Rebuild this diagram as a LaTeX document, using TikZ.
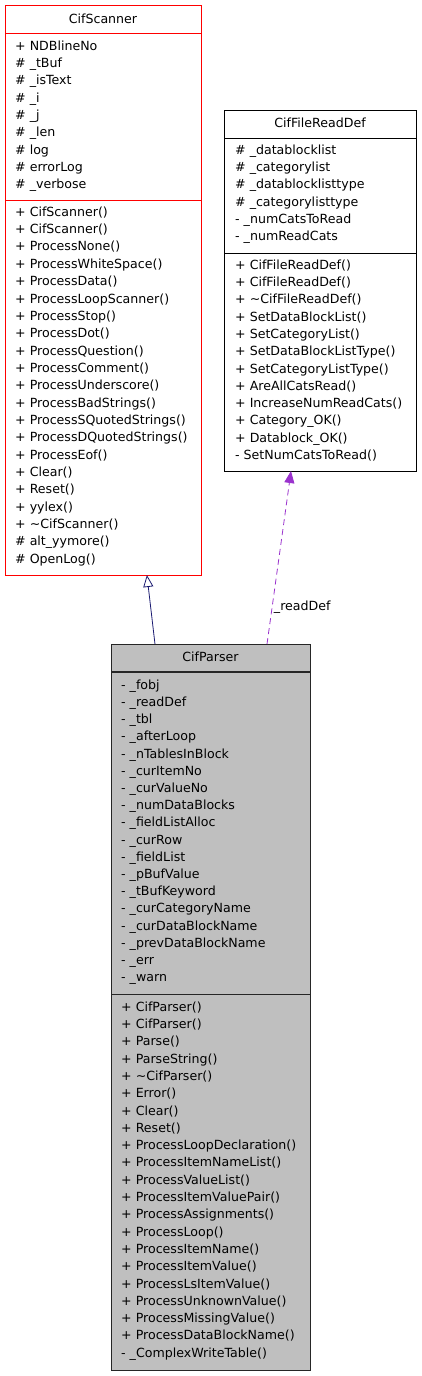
\documentclass[tikz,border=0pt]{standalone}
\usepackage{fontspec}
\setmainfont{DejaVu Sans}
\usetikzlibrary{arrows.meta,calc}

\definecolor{inheritblue}{RGB}{25,25,112}
\definecolor{usepurple}{RGB}{154,50,205}
\definecolor{classgray}{RGB}{191,191,191}
\definecolor{scannerred}{RGB}{255,0,0}

\tikzset{
    classbox/.style={rectangle, line width=1pt, inner sep=0pt, outer sep=0pt},
    member/.style={anchor=west, inner sep=0pt, text height=10pt, text depth=1.5pt},
    title/.style={inner sep=0pt, text height=10pt, text depth=1.5pt},
    inherit/.style={draw=inheritblue, line width=0.8pt, -{Triangle[open, length=12pt, width=10pt]}},
    uses/.style={draw=usepurple, line width=0.8pt, dash pattern=on 6pt off 4pt, -{Triangle[length=12pt, width=10pt]}}
}

\begin{document}
\begin{tikzpicture}[x=1pt,y=-1pt,font=\fontsize{12.6}{15}\selectfont]
    \useasboundingbox (0,0) rectangle (421,1376);

    % CifScanner
    \node[classbox, fill=white, minimum width=196pt, minimum height=570pt] (scanner) at (103,290) {};
    \draw[scannerred, line width=1pt] (scanner.north west) rectangle (scanner.south east);
    \draw[scannerred, line width=1pt] (5,33) -- (201,33);
    \draw[scannerred, line width=1pt] (5,200) -- (201,200);
    \node[title] (scannername) at (103,19) {CifScanner};

    \node[member] (sa1) at (15,46) {+ NDBlineNo};
    \node[member] (sa2) at (15,63.3) {\# \_tBuf};
    \node[member] (sa3) at (15,80.6) {\# \_isText};
    \node[member] (sa4) at (15,97.9) {\# \_i};
    \node[member] (sa5) at (15,115.2) {\# \_j};
    \node[member] (sa6) at (15,132.5) {\# \_len};
    \node[member] (sa7) at (15,149.8) {\# log};
    \node[member] (sa8) at (15,167.1) {\# errorLog};
    \node[member] (sa9) at (15,184.4) {\# \_verbose};

    \node[member] (sm1) at (15,212) {+ CifScanner()};
    \node[member] (sm2) at (15,229.35) {+ CifScanner()};
    \node[member] (sm3) at (15,246.7) {+ ProcessNone()};
    \node[member] (sm4) at (15,264.05) {+ ProcessWhiteSpace()};
    \node[member] (sm5) at (15,281.4) {+ ProcessData()};
    \node[member] (sm6) at (15,298.75) {+ ProcessLoopScanner()};
    \node[member] (sm7) at (15,316.1) {+ ProcessStop()};
    \node[member] (sm8) at (15,333.45) {+ ProcessDot()};
    \node[member] (sm9) at (15,350.8) {+ ProcessQuestion()};
    \node[member] (sm10) at (15,368.15) {+ ProcessComment()};
    \node[member] (sm11) at (15,385.5) {+ ProcessUnderscore()};
    \node[member] (sm12) at (15,402.85) {+ ProcessBadStrings()};
    \node[member] (sm13) at (15,420.2) {+ ProcessSQuotedStrings()};
    \node[member] (sm14) at (15,437.55) {+ ProcessDQuotedStrings()};
    \node[member] (sm15) at (15,454.9) {+ ProcessEof()};
    \node[member] (sm16) at (15,472.25) {+ Clear()};
    \node[member] (sm17) at (15,489.6) {+ Reset()};
    \node[member] (sm18) at (15,506.95) {+ yylex()};
    \node[member] (sm19) at (15,524.3) {+ \textasciitilde CifScanner()};
    \node[member] (sm20) at (15,541.65) {\# alt\_yymore()};
    \node[member] (sm21) at (15,559) {\# OpenLog()};

    % CifFileReadDef
    \node[classbox, draw=black, fill=white, minimum width=192pt, minimum height=361pt] (readdef) at (320,290.5) {};
    \draw[line width=1pt] (224,138) -- (416,138);
    \draw[line width=1pt] (224,253) -- (416,253);
    \node[title] (readdefname) at (320,123) {CifFileReadDef};

    \node[member] (ra1) at (235,150) {\# \_datablocklist};
    \node[member] (ra2) at (235,167.3) {\# \_categorylist};
    \node[member] (ra3) at (235,184.6) {\# \_datablocklisttype};
    \node[member] (ra4) at (235,201.9) {\# \_categorylisttype};
    \node[member] (ra5) at (235,219.2) {- \_numCatsToRead};
    \node[member] (ra6) at (235,236.5) {- \_numReadCats};

    \node[member] (rm1) at (235,265) {+ CifFileReadDef()};
    \node[member] (rm2) at (235,282.3) {+ CifFileReadDef()};
    \node[member] (rm3) at (235,299.6) {+ \textasciitilde CifFileReadDef()};
    \node[member] (rm4) at (235,316.9) {+ SetDataBlockList()};
    \node[member] (rm5) at (235,334.2) {+ SetCategoryList()};
    \node[member] (rm6) at (235,351.5) {+ SetDataBlockListType()};
    \node[member] (rm7) at (235,368.8) {+ SetCategoryListType()};
    \node[member] (rm8) at (235,386.1) {+ AreAllCatsRead()};
    \node[member] (rm9) at (235,403.4) {+ IncreaseNumReadCats()};
    \node[member] (rm10) at (235,420.7) {+ Category\_OK()};
    \node[member] (rm11) at (235,438) {+ Datablock\_OK()};
    \node[member] (rm12) at (235,455.3) {- SetNumCatsToRead()};

    % CifParser
    \node[classbox, draw=black!85, fill=classgray, minimum width=199pt, minimum height=726pt] (parser) at (210.5,1007) {};
    \draw[black!85, line width=1.2pt] (111,672) -- (310,672);
    \draw[black!85, line width=1.2pt] (111,994.5) -- (310,994.5);
    \node[title] (parsername) at (210.5,657) {CifParser};

    \node[member] (pa1) at (121,685) {- \_fobj};
    \node[member] (pa2) at (121,702.2) {- \_readDef};
    \node[member] (pa3) at (121,719.4) {- \_tbl};
    \node[member] (pa4) at (121,736.6) {- \_afterLoop};
    \node[member] (pa5) at (121,753.8) {- \_nTablesInBlock};
    \node[member] (pa6) at (121,771) {- \_curItemNo};
    \node[member] (pa7) at (121,788.2) {- \_curValueNo};
    \node[member] (pa8) at (121,805.4) {- \_numDataBlocks};
    \node[member] (pa9) at (121,822.6) {- \_fieldListAlloc};
    \node[member] (pa10) at (121,839.8) {- \_curRow};
    \node[member] (pa11) at (121,857) {- \_fieldList};
    \node[member] (pa12) at (121,874.2) {- \_pBufValue};
    \node[member] (pa13) at (121,891.4) {- \_tBufKeyword};
    \node[member] (pa14) at (121,908.6) {- \_curCategoryName};
    \node[member] (pa15) at (121,925.8) {- \_curDataBlockName};
    \node[member] (pa16) at (121,943) {- \_prevDataBlockName};
    \node[member] (pa17) at (121,960.2) {- \_err};
    \node[member] (pa18) at (121,977.4) {- \_warn};

    \node[member] (pm1) at (121,1007) {+ CifParser()};
    \node[member] (pm2) at (121,1024.3) {+ CifParser()};
    \node[member] (pm3) at (121,1041.6) {+ Parse()};
    \node[member] (pm4) at (121,1058.9) {+ ParseString()};
    \node[member] (pm5) at (121,1076.2) {+ \textasciitilde CifParser()};
    \node[member] (pm6) at (121,1093.5) {+ Error()};
    \node[member] (pm7) at (121,1110.8) {+ Clear()};
    \node[member] (pm8) at (121,1128.1) {+ Reset()};
    \node[member] (pm9) at (121,1145.4) {+ ProcessLoopDeclaration()};
    \node[member] (pm10) at (121,1162.7) {+ ProcessItemNameList()};
    \node[member] (pm11) at (121,1180) {+ ProcessValueList()};
    \node[member] (pm12) at (121,1197.3) {+ ProcessItemValuePair()};
    \node[member] (pm13) at (121,1214.6) {+ ProcessAssignments()};
    \node[member] (pm14) at (121,1231.9) {+ ProcessLoop()};
    \node[member] (pm15) at (121,1249.2) {+ ProcessItemName()};
    \node[member] (pm16) at (121,1266.5) {+ ProcessItemValue()};
    \node[member] (pm17) at (121,1283.8) {+ ProcessLsItemValue()};
    \node[member] (pm18) at (121,1301.1) {+ ProcessUnknownValue()};
    \node[member] (pm19) at (121,1318.4) {+ ProcessMissingValue()};
    \node[member] (pm20) at (121,1335.7) {+ ProcessDataBlockName()};
    \node[member] (pm21) at (121,1353) {- \_ComplexWriteTable()};

    % connectors
    \draw[inherit] ($(parser.north west)!0.221!(parser.north east)$) -- ($(scanner.south west)!0.724!(scanner.south east)$);
    \draw[uses] ($(parser.north west)!0.784!(parser.north east)$) -- node[pos=0.21, anchor=west, inner sep=1.5pt] (readdeflabel) {\_readDef} ($(readdef.south west)!0.349!(readdef.south east)$);

\end{tikzpicture}
\end{document}
